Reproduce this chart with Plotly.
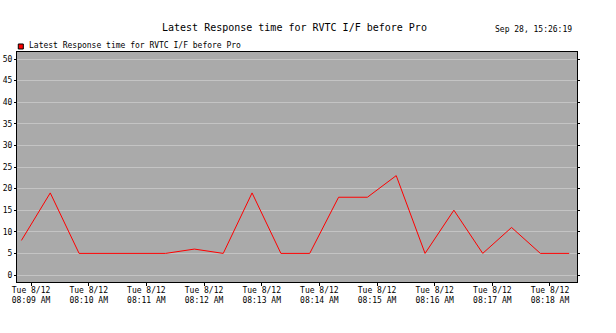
import plotly.graph_objects as go

# Response-time samples, one every 30 seconds
times = [
    "2008-08-12 08:08:50", "2008-08-12 08:09:20", "2008-08-12 08:09:50",
    "2008-08-12 08:10:20", "2008-08-12 08:10:50", "2008-08-12 08:11:20",
    "2008-08-12 08:11:50", "2008-08-12 08:12:20", "2008-08-12 08:12:50",
    "2008-08-12 08:13:20", "2008-08-12 08:13:50", "2008-08-12 08:14:20",
    "2008-08-12 08:14:50", "2008-08-12 08:15:20", "2008-08-12 08:15:50",
    "2008-08-12 08:16:20", "2008-08-12 08:16:50", "2008-08-12 08:17:20",
    "2008-08-12 08:17:50", "2008-08-12 08:18:20",
]
response = [8, 19, 5, 5, 5, 5, 6, 5, 19, 5, 5, 18, 18, 23, 5, 15, 5, 11, 5, 5]

tick_times = [
    "2008-08-12 08:09", "2008-08-12 08:10", "2008-08-12 08:11",
    "2008-08-12 08:12", "2008-08-12 08:13", "2008-08-12 08:14",
    "2008-08-12 08:15", "2008-08-12 08:16", "2008-08-12 08:17",
    "2008-08-12 08:18",
]
tick_labels = [
    "Tue 8/12<br>08:09 AM", "Tue 8/12<br>08:10 AM", "Tue 8/12<br>08:11 AM",
    "Tue 8/12<br>08:12 AM", "Tue 8/12<br>08:13 AM", "Tue 8/12<br>08:14 AM",
    "Tue 8/12<br>08:15 AM", "Tue 8/12<br>08:16 AM", "Tue 8/12<br>08:17 AM",
    "Tue 8/12<br>08:18 AM",
]
y_ticks = [0, 5, 10, 15, 20, 25, 30, 35, 40, 45, 50]

series_name = "Latest Response time for RVTC I/F before Pro"
stamp = "Sep 28, 15:26:19"
FONT = "DejaVu Sans Mono"

fig = go.Figure()
fig.add_trace(go.Scatter(
    x=times, y=response, mode="lines", name=series_name,
    line=dict(color="#FF0000", width=1), showlegend=False,
))

fig.update_layout(
    width=616, height=333,
    margin=dict(l=17, r=39, t=52, b=51),
    paper_bgcolor="white",
    plot_bgcolor="#AAAAAA",
    font=dict(family=FONT, size=8, color="black"),
    xaxis=dict(
        type="date", automargin=False,
        range=["2008-08-12 08:08:45.4", "2008-08-12 08:18:28.1"],
        tickvals=tick_times, ticktext=tick_labels,
        showgrid=False, zeroline=False,
        showline=True, linecolor="black", linewidth=1, mirror=True,
        ticks="outside", ticklen=3, tickcolor="black",
        tickfont=dict(family=FONT, size=8),
        ticklabelstandoff=-3,
    ),
    yaxis=dict(
        automargin=False,
        range=[-1.62, 51.62],
        tickvals=y_ticks,
        showgrid=True, gridcolor="#C4C4C4", gridwidth=1, zeroline=False,
        showline=True, linecolor="black", linewidth=1, mirror="ticks",
        ticks="outside", ticklen=2, tickcolor="black",
        tickfont=dict(family=FONT, size=8),
    ),
    annotations=[
        dict(text=series_name, x=0.4964, y=1.107, xref="paper", yref="paper",
             xanchor="center", yanchor="middle", showarrow=False,
             font=dict(family=FONT, size=10)),
        dict(text=stamp, x=0.9946, y=1.0987, xref="paper", yref="paper",
             xanchor="right", yanchor="middle", showarrow=False,
             font=dict(family=FONT, size=8)),
        dict(text=series_name, x=0.0173, y=1.0283, xref="paper", yref="paper",
             xanchor="left", yanchor="middle", showarrow=False,
             font=dict(family=FONT, size=8)),
    ],
    shapes=[
        dict(type="rect", xref="paper", yref="paper",
             x0=0.0023, x1=0.0113, y0=1.0130, y1=1.0348,
             fillcolor="#FF0000", line=dict(color="black", width=1)),
    ],
)

fig.write_html("out.html")
